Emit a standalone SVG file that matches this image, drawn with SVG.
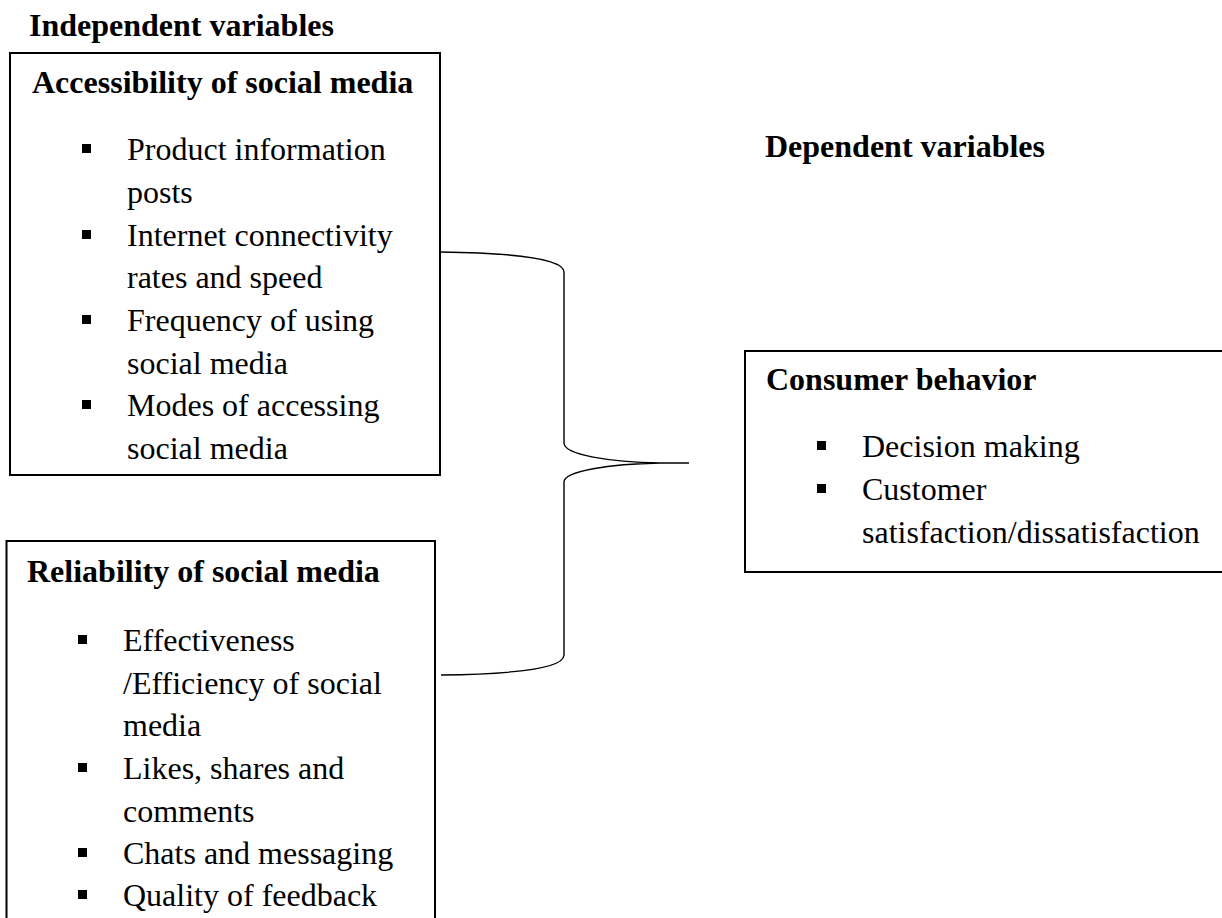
<svg xmlns="http://www.w3.org/2000/svg" width="1222" height="918" viewBox="0 0 1222 918">
<style>
.t{font-family:"Liberation Serif","Times New Roman",serif;font-size:32px;fill:#000}
.b{font-weight:bold}
.box{fill:#fff;stroke:#000;stroke-width:2}
.bul{fill:#000}
.con{fill:none;stroke:#000;stroke-width:1.4}
</style>
<rect width="1222" height="918" fill="#fff"/>
<text class="t b" x="29" y="36">Independent variables</text>
<text class="t b" x="765" y="157">Dependent variables</text>
<g id="accessibility">
<rect class="box" x="10" y="53" width="430" height="422"/>
<text class="t b" x="32" y="93">Accessibility of social media</text>
<rect class="bul" x="82" y="144" width="9" height="9"/>
<text class="t" x="127" y="160">Product information</text>
<text class="t" x="127" y="203">posts</text>
<rect class="bul" x="82" y="230" width="9" height="9"/>
<text class="t" x="127" y="246">Internet connectivity</text>
<text class="t" x="127" y="288">rates and speed</text>
<rect class="bul" x="82" y="315" width="9" height="9"/>
<text class="t" x="127" y="331">Frequency of using</text>
<text class="t" x="127" y="374">social media</text>
<rect class="bul" x="82" y="400" width="9" height="9"/>
<text class="t" x="127" y="416">Modes of accessing</text>
<text class="t" x="127" y="459">social media</text>
</g>
<g id="reliability">
<rect class="box" x="6.5" y="541" width="428.5" height="400"/>
<text class="t b" x="27" y="582">Reliability of social media</text>
<rect class="bul" x="78" y="635" width="9" height="9"/>
<text class="t" x="123" y="651">Effectiveness</text>
<text class="t" x="123" y="694">/Efficiency of social</text>
<text class="t" x="123" y="736">media</text>
<rect class="bul" x="78" y="763" width="9" height="9"/>
<text class="t" x="123" y="779">Likes, shares and</text>
<text class="t" x="123" y="822">comments</text>
<rect class="bul" x="78" y="848" width="9" height="9"/>
<text class="t" x="123" y="864">Chats and messaging</text>
<rect class="bul" x="78" y="890" width="9" height="9"/>
<text class="t" x="123" y="906">Quality of feedback</text>
</g>
<g id="consumer">
<rect class="box" x="745" y="351" width="490" height="221"/>
<text class="t b" x="766" y="390">Consumer behavior</text>
<rect class="bul" x="817" y="441" width="9" height="9"/>
<text class="t" x="862" y="457">Decision making</text>
<rect class="bul" x="817" y="484" width="9" height="9"/>
<text class="t" x="862" y="500">Customer</text>
<text class="t" x="862" y="543">satisfaction/dissatisfaction</text>
</g>
<g id="connectors">
<path class="con" d="M441,252 C520,253 564,260 564,272 L564,443 C564,455 610,462 660,463 L689,463 M660,463 C610,464 564,471 564,482 L564,655 C564,668 520,674 441,675"/>
</g>
</svg>
